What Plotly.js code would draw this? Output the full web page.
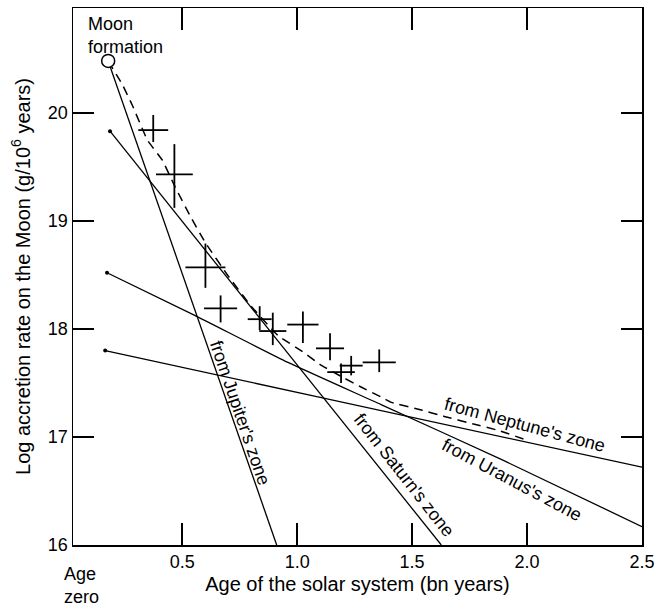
<!DOCTYPE html>
<html>
<head>
<meta charset="utf-8">
<script src="https://cdn.plot.ly/plotly-3.0.1.min.js"></script>
<style>html,body{margin:0;padding:0;background:#fff;}#chart{width:665px;height:606px;}</style>
</head>
<body>
<div id="chart"></div>
<script>
// Observed data points (age in bn years, log accretion rate) with error extents
const obsAge = [0.374, 0.466, 0.601, 0.667, 0.837, 0.894, 1.025, 1.143, 1.191, 1.235, 1.357];
const obsRate = [19.84, 19.43, 18.57, 18.19, 18.09, 17.98, 18.04, 17.82, 17.60, 17.66, 17.69];
const obsAgeErr = [0.065, 0.080, 0.087, 0.072, 0.052, 0.059, 0.068, 0.061, 0.060, 0.050, 0.072];
const obsRateErrPlus = [0.14, 0.28, 0.22, 0.12, 0.12, 0.17, 0.12, 0.14, 0.08, 0.09, 0.12];
const obsRateErrMinus = [0.11, 0.31, 0.19, 0.13, 0.10, 0.13, 0.17, 0.11, 0.10, 0.09, 0.09];

// Moon formation point
const moonAge = [0.178];
const moonRate = [20.48];

// Model curves from each planet's zone
const jupiterAge = [0.178, 0.911];
const jupiterRate = [20.48, 16.0];
const saturnAge = [0.186, 1.627];
const saturnRate = [19.83, 16.0];
const uranusAge = [0.173, 0.55, 0.96, 1.365, 1.89, 2.5];
const uranusRate = [18.52, 18.13, 17.69, 17.30, 16.79, 16.17];
const neptuneAge = [0.165, 1.09, 2.5];
const neptuneRate = [17.80, 17.37, 16.72];

// Total (dashed) curve
const totalAge = [0.178, 0.24, 0.283, 0.348, 0.414, 0.47, 0.536, 0.6, 0.7, 0.8, 0.916, 1.03, 1.10, 1.20, 1.28, 1.365, 1.41, 1.54, 1.64, 1.767, 1.876, 2.0];
const totalRate = [20.48, 20.26, 20.07, 19.75, 19.56, 19.31, 19.04, 18.80, 18.49, 18.21, 17.94, 17.78, 17.67, 17.55, 17.46, 17.37, 17.32, 17.25, 17.19, 17.12, 17.06, 16.97];

// Tick labels
const xTickVals = [0.5, 1.0, 1.5, 2.0, 2.5];
const xTickText = ['0.5', '1.0', '1.5', '2.0', '2.5'];
const yTickVals = [16, 17, 18, 19, 20];
const yTickText = ['16', '17', '18', '19', '20'];

const FONT = 'Liberation Sans, Arial, Helvetica, sans-serif';
const lineStyle = {color: '#000', width: 1.3};

const traces = [
  {x: jupiterAge, y: jupiterRate, mode: 'lines', line: lineStyle, hoverinfo: 'skip'},
  {x: saturnAge, y: saturnRate, mode: 'lines', line: lineStyle, hoverinfo: 'skip'},
  {x: uranusAge, y: uranusRate, mode: 'lines', line: Object.assign({shape: 'spline', smoothing: 0.5}, lineStyle), hoverinfo: 'skip'},
  {x: neptuneAge, y: neptuneRate, mode: 'lines', line: Object.assign({shape: 'spline', smoothing: 0.5}, lineStyle), hoverinfo: 'skip'},
  {x: totalAge, y: totalRate, mode: 'lines', line: {color: '#000', width: 1.5, dash: '9px,6px', shape: 'spline', smoothing: 0.3}, hoverinfo: 'skip'},
  {x: [saturnAge[0], uranusAge[0], neptuneAge[0]], y: [saturnRate[0], uranusRate[0], neptuneRate[0]],
   mode: 'markers', marker: {color: '#000', size: 4}, hoverinfo: 'skip'},
  {x: obsAge, y: obsRate, mode: 'markers', marker: {size: 1, color: 'rgba(0,0,0,0)'},
   error_x: {type: 'data', array: obsAgeErr, color: '#000', thickness: 1.8, width: 0},
   error_y: {type: 'data', symmetric: false, array: obsRateErrPlus, arrayminus: obsRateErrMinus, color: '#000', thickness: 1.8, width: 0}},
  {x: moonAge, y: moonRate, mode: 'markers', marker: {symbol: 'circle', size: 13, color: '#fff', line: {color: '#000', width: 1.5}}, hoverinfo: 'skip'}
];

const annFont = {family: FONT, size: 18, color: '#000'};
const layout = {
  width: 665, height: 606,
  margin: {l: 73, r: 23, t: 8, b: 61},
  paper_bgcolor: '#fff', plot_bgcolor: '#fff',
  showlegend: false,
  font: {family: FONT, size: 18, color: '#000'},
  xaxis: {
    range: [0.025, 2.5], showgrid: false, zeroline: false,
    showline: true, linecolor: '#000', linewidth: 1.5, mirror: 'ticks',
    ticks: 'inside', ticklen: 22, tickwidth: 1.5, tickcolor: '#000',
    tickvals: xTickVals, ticktext: xTickText,
    tickfont: {family: FONT, size: 18},
    title: {text: 'Age of the solar system (bn years)', font: {family: FONT, size: 20}, standoff: 6}
  },
  yaxis: {
    range: [16, 20.97], showgrid: false, zeroline: false,
    showline: true, linecolor: '#000', linewidth: 1.5, mirror: 'ticks',
    ticks: 'inside', ticklen: 21, tickwidth: 1.5, tickcolor: '#000',
    tickvals: yTickVals, ticktext: yTickText,
    tickfont: {family: FONT, size: 18},
    title: {text: 'Log accretion rate on the Moon (g/10<sup>6</sup> years)', font: {family: FONT, size: 20}, standoff: 12}
  },
  annotations: [
    {x: 0.082, y: 20.93, xref: 'x', yref: 'y', text: 'Moon<br>formation', showarrow: false, xanchor: 'left', yanchor: 'top', align: 'left', font: annFont},
    {x: -0.019, y: -0.076, xref: 'paper', yref: 'paper', text: 'Age<br>zero', showarrow: false, xanchor: 'left', yanchor: 'middle', align: 'left', font: annFont},
    {x: 0.751, y: 17.22, xref: 'x', yref: 'y', text: "from Jupiter's zone", showarrow: false, textangle: 71, font: annFont},
    {x: 1.465, y: 16.65, xref: 'x', yref: 'y', text: "from Saturn's zone", showarrow: false, textangle: 52, font: annFont},
    {x: 1.935, y: 16.60, xref: 'x', yref: 'y', text: "from Uranus's zone", showarrow: false, textangle: 28, font: annFont},
    {x: 1.991, y: 17.11, xref: 'x', yref: 'y', text: "from Neptune's zone", showarrow: false, textangle: 15, font: annFont}
  ]
};

Plotly.newPlot('chart', traces, layout, {displayModeBar: false, staticPlot: true});
</script>
</body>
</html>
